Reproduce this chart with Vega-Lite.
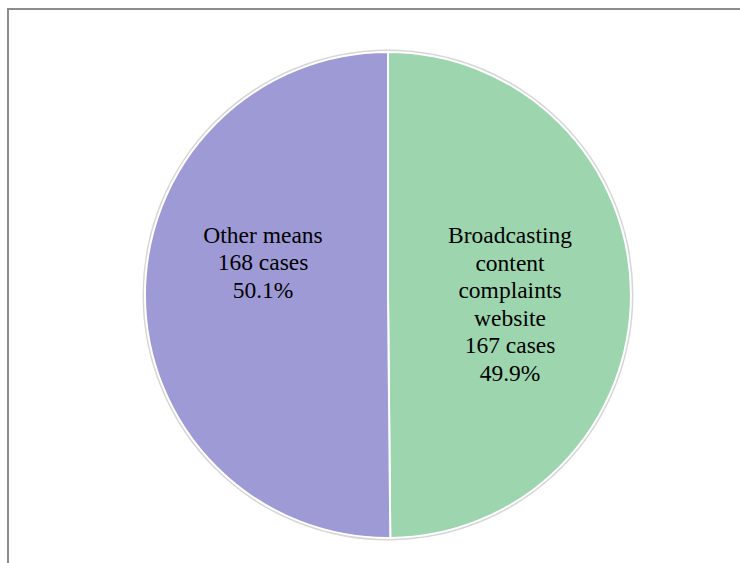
{
  "$schema": "https://vega.github.io/schema/vega-lite/v6.json",
  "width": 760,
  "height": 572,
  "autosize": {"type": "none"},
  "padding": {"left": 8, "top": 9, "right": -28, "bottom": -18},
  "background": "white",
  "view": {"stroke": "#8c8c8c", "strokeWidth": 2},
  "data": {
    "values": [
      {"category": "Broadcasting content complaints website", "cases": 167, "label": "Broadcasting\ncontent\ncomplaints\nwebsite\n167 cases\n49.9%", "order": 1},
      {"category": "Other means", "cases": 168, "label": "Other means\n168 cases\n50.1%", "order": 2}
    ]
  },
  "encoding": {
    "theta": {"field": "cases", "type": "quantitative", "stack": true},
    "order": {"field": "order", "type": "quantitative"}
  },
  "layer": [
    {
      "mark": {"type": "arc", "outerRadius": 245.5, "color": "#d6d6d6", "strokeWidth": 0}
    },
    {
      "mark": {"type": "arc", "outerRadius": 243, "stroke": "white", "strokeWidth": 2},
      "encoding": {
        "color": {
          "field": "category",
          "type": "nominal",
          "scale": {"domain": ["Broadcasting content complaints website", "Other means"], "range": ["#9dd5ae", "#9e9ad5"]},
          "legend": null
        }
      }
    },
    {
      "mark": {"type": "text", "radius": 122, "dy": -58, "align": "center", "baseline": "middle", "font": "Liberation Serif, Times New Roman, serif", "fontSize": 23.5, "lineHeight": 27.5, "lineBreak": "\n", "color": "black"},
      "encoding": {
        "text": {"condition": {"test": "datum.order == 1", "field": "label"}, "value": ""}
      }
    },
    {
      "mark": {"type": "text", "radius": 125, "dy": -60, "align": "center", "baseline": "middle", "font": "Liberation Serif, Times New Roman, serif", "fontSize": 23.5, "lineHeight": 27.5, "lineBreak": "\n", "color": "black"},
      "encoding": {
        "text": {"condition": {"test": "datum.order == 2", "field": "label"}, "value": ""}
      }
    }
  ]
}
